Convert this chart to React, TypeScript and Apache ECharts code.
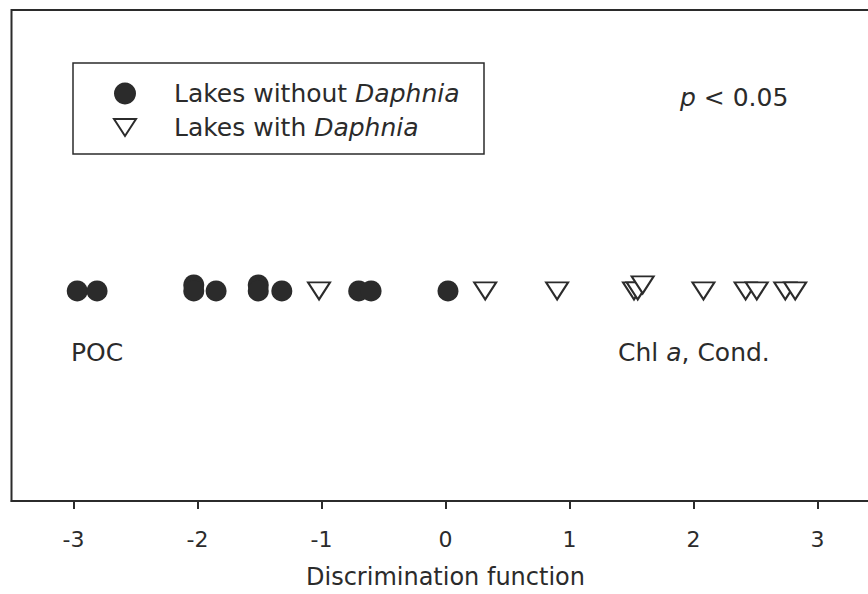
import React, { useEffect, useRef } from "react";
import * as echarts from "echarts";

// Discriminant scores per lake; "row" lifts overlapping points one step
const withoutScores = [-2.97, -2.81, -2.03, -2.03, -1.85, -1.51, -1.51, -1.32, -0.7, -0.6, 0.02];
const withoutRows = [0, 0, 1, 0, 0, 1, 0, 0, 0, 0, 0];
const withScores = [-1.02, 0.32, 0.9, 1.52, 1.55, 1.59, 2.08, 2.42, 2.51, 2.74, 2.82];
const withRows = [0, 0, 0, 0, 0, 1, 0, 0, 0, 0, 0];
const xTicks = [-3, -2, -1, 0, 1, 2, 3];

const INK = "#2b2b2b";
const FONT = "'DejaVu Sans', 'Liberation Sans', sans-serif";
const FS = 25;
const DOWN_TRIANGLE = "path://M0,0L22,0L11,17Z";

export default function App() {
  const ref = useRef<HTMLDivElement>(null);

  useEffect(() => {
    if (!ref.current) return;
    const chart = echarts.init(ref.current, undefined, { renderer: "svg" });
    const pts = (xs: number[], rows: number[]) => xs.map((x, i) => [x, rows[i]]);
    const italic = (name: string) => name.replace("Daphnia", "{i|Daphnia}");
    const italicRich = { i: { fontStyle: "italic", fontSize: FS, fontFamily: FONT, color: INK, fill: INK } };

    chart.setOption({
      animation: false,
      backgroundColor: "#ffffff",
      textStyle: { fontFamily: FONT, color: INK },
      grid: {
        left: 11.5,
        top: 10,
        width: 868,
        height: 491,
        show: true,
        borderColor: INK,
        borderWidth: 2,
        containLabel: false,
        outerBoundsMode: "none",
      },
      xAxis: {
        type: "value",
        min: -3.5,
        max: 3.5,
        name: "Discrimination function",
        nameLocation: "middle",
        nameGap: 65,
        nameTextStyle: { fontSize: 24, lineHeight: 21, color: INK, fontFamily: FONT },
        axisLine: { show: true, onZero: false, lineStyle: { color: INK, width: 2 } },
        axisTick: {
          show: true,
          customValues: xTicks,
          length: 8,
          lineStyle: { color: INK, width: 2 },
        },
        axisLabel: {
          customValues: xTicks,
          margin: 27,
          fontSize: 22,
          color: INK,
          fontFamily: FONT,
        },
        splitLine: { show: false },
      },
      yAxis: {
        type: "value",
        min: -35,
        max: 46.8,
        show: false,
      },
      legend: {
        orient: "vertical",
        left: 108,
        top: 76,
        itemWidth: 22,
        itemHeight: 22,
        itemGap: 9,
        formatter: italic,
        data: [
          { name: "Lakes without Daphnia", icon: "circle" },
          { name: "Lakes with Daphnia", icon: DOWN_TRIANGLE },
        ],
        textStyle: {
          fontSize: FS,
          lineHeight: 22,
          color: INK,
          fontFamily: FONT,
          padding: [0, 0, 0, 33],
          rich: italicRich,
        },
      },
      graphic: [
        {
          type: "rect",
          shape: { x: 73, y: 63, width: 411, height: 91 },
          style: { fill: "none", stroke: INK, lineWidth: 1.5 },
          silent: true,
        },
        {
          type: "text",
          x: 680,
          y: 97,
          style: {
            text: "{i|p} < 0.05",
            fontSize: FS,
            fill: INK,
            fontFamily: FONT,
            verticalAlign: "middle",
            rich: italicRich,
          },
        },
        {
          type: "text",
          x: 71,
          y: 352,
          style: { text: "POC", fontSize: FS, fill: INK, fontFamily: FONT, verticalAlign: "middle" },
        },
        {
          type: "text",
          x: 618,
          y: 352,
          style: {
            text: "Chl {i|a}, Cond.",
            fontSize: FS,
            fill: INK,
            fontFamily: FONT,
            verticalAlign: "middle",
            rich: italicRich,
          },
        },
      ],
      series: [
        {
          name: "Lakes without Daphnia",
          type: "scatter",
          symbol: "circle",
          symbolSize: 21,
          itemStyle: { color: INK, opacity: 1 },
          data: pts(withoutScores, withoutRows),
        },
        {
          name: "Lakes with Daphnia",
          type: "scatter",
          symbol: "triangle",
          symbolRotate: 180,
          symbolSize: [22, 17],
          itemStyle: { color: "#ffffff", borderColor: INK, borderWidth: 2, opacity: 1 },
          data: pts(withScores, withRows),
        },
      ],
    });

    return () => chart.dispose();
  }, []);

  return (
    <div
      ref={ref}
      style={{ position: "fixed", left: 0, top: 0, width: 868, height: 594 }}
    />
  );
}
